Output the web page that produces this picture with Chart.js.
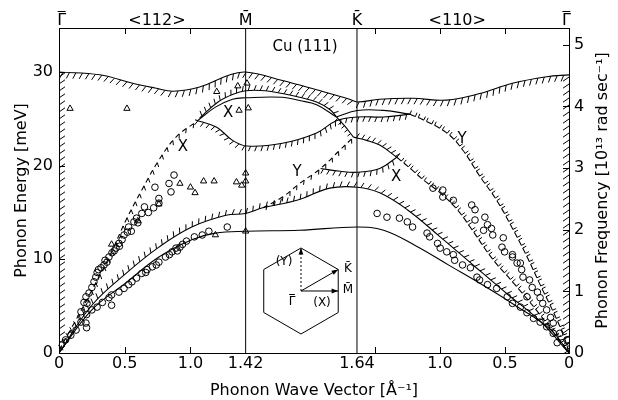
<!DOCTYPE html>
<html><head><meta charset="utf-8">
<script src="https://cdn.jsdelivr.net/npm/chart.js@4/dist/chart.umd.min.js"></script>
<style>html,body{margin:0;padding:0;background:#fff}</style>
</head><body>
<canvas id="c" width="618" height="400"></canvas>
<script>
// ---------- axis constants ----------
const E_MAX = 34.7;              // meV at top of frame
const MEV_TO_FREQ = 0.15193;     // 1 meV = 0.15193 x 10^13 rad/s
const X_MAX = 3.88;              // path length Γ-M-K-Γ
const POS_M = 1.42, POS_K = 2.267;

const bottomTickPos    = [0, 0.5, 1.0, 1.42, 2.267, 2.899, 3.393, 3.88];
const bottomTickLabels = ['0','0.5','1.0','1.42','1.64','1.0','0.5','0'];
const topLabelPos      = [0.02, 0.745, 1.42, 2.267, 3.03, 3.86];
const topLabels        = ['Γ','<112>','M\u0304','K\u0304','<110>','Γ'];
const minorTickPos     = [0.5, 1.0, 2.404, 2.899, 3.393];
const energyTicks      = [0, 10, 20, 30];
const freqTicks        = [0, 1, 2, 3, 4, 5];

// ---------- curves (path coordinate, meV) ----------
const bandTop = [[0,30.0],[0.31,29.7],[0.56,28.8],[0.73,28.3],[0.87,27.95],[1.07,28.4],[1.28,29.6],[1.42,30.0],[1.70,29.1],[1.96,28.1],[2.21,27.1],[2.27,26.8],[2.44,27.1],[2.69,27.2],[2.95,27.0],[3.20,27.7],[3.45,28.8],[3.71,29.5],[3.88,29.7]];
const bandUpperM = [[1.07,25.1],[1.21,26.8],[1.32,27.6],[1.42,28.0],[1.57,28.0],[1.70,27.7],[1.83,27.3],[1.96,26.8],[2.06,26.0],[2.11,25.25]];
const modeUpperM = [[1.05,24.76],[1.19,26.25],[1.32,27.1],[1.42,27.25],[1.70,27.3],[1.83,26.95],[1.96,26.5],[2.11,25.2]];
const bandLowerM = [[1.035,24.9],[1.20,24.1],[1.32,22.7],[1.43,22.1],[1.70,22.4],[1.96,23.5],[2.11,24.8],[2.27,25.2],[2.47,25.2],[2.67,25.5]];
const modeUpperK = [[2.11,25.2],[2.27,25.9],[2.47,25.9],[2.67,25.5]];
const edgeY = [[2.67,25.5],[2.77,24.9],[2.95,23.5],[3.07,21.7],[3.20,18.9],[3.33,16.3],[3.45,13.3],[3.56,10.3],[3.66,7.3],[3.76,4.4],[3.84,1.8],[3.88,0]];
const edgeX = [[2.57,20.9],[2.69,19.5],[2.77,18.5],[2.90,17.1],[3.03,15.3],[3.13,13.4],[3.30,10.0],[3.45,7.6],[3.63,4.6],[3.81,1.3],[3.88,0]];
const bandLow = [[0,0],[0.25,5.1],[0.51,8.5],[0.76,11.3],[1.01,13.45],[1.27,14.7],[1.42,14.9],[1.55,15.5],[1.81,16.3],[2.06,17.6],[2.27,17.7],[2.44,17.1],[2.65,15.3],[2.90,12.4],[3.15,9.4],[3.41,6.3],[3.66,3.4],[3.88,0]];
const rayleigh = [[0,0],[0.25,4.6],[0.51,7.5],[0.76,10.25],[1.01,12.1],[1.19,12.8],[1.42,13.0],[1.83,13.1],[2.27,13.45],[2.47,13.1],[2.72,11.4],[2.975,9.3],[3.23,7.2],[3.48,5.0],[3.74,2.5],[3.88,0]];
const dashX = [[0,0.3],[0.12,3.3],[0.25,6.7],[0.39,10.5],[0.51,14.2],[0.63,17.4],[0.76,20.6],[0.89,23.05],[1.05,24.76]];
const dashY = [[1.55,15.5],[1.70,16.65],[1.83,18.1],[1.99,19.7],[2.14,21.7],[2.24,23.05]];
const linkK = [[2.11,25.2],[2.17,24.3],[2.24,23.05]];
const lensKUpper = [[2.24,23.05],[2.34,22.7],[2.44,22.2],[2.57,20.9]];
const lensKLower = [[1.99,19.7],[2.14,19.4],[2.27,19.3],[2.44,19.7],[2.57,20.9]];
const edgeLeft = [[0,0],[0,30.0]];
const edgeRight = [[3.88,0],[3.88,29.7]];

// ---------- measured points ----------
const circles = [
 [0.875,19.0],[0.837,18.1],[0.852,17.2],[0.73,17.7],[0.76,16.5],[0.76,16.0],[0.72,15.5],[0.65,15.6],[0.63,14.9],[0.59,14.4],
 [0.57,14.0],[0.53,13.45],[0.52,12.9],[0.495,12.6],[0.48,12.1],[0.456,11.7],[0.434,11.2],[0.403,10.7],[0.38,10.25],[0.365,9.7],
 [0.342,9.4],[0.32,9.1],[0.29,8.6],[0.28,8.1],[0.266,7.6],[0.25,7.0],[0.228,6.4],[0.205,6.0],[0.213,5.3],[0.19,5.4],[0.167,4.4],
 [0.30,8.9],[0.35,9.9],[0.42,10.9],[0.46,11.4],[0.55,13.0],[0.60,13.9],[0.68,15.0],
 [1.28,13.45],[1.14,13.0],[1.09,12.6],[1.03,12.4],[0.97,11.95],[0.94,11.6],[0.89,11.2],[0.86,10.8],[0.84,10.5],[0.81,10.25],
 [0.76,9.7],[0.74,9.4],[0.71,9.2],[0.67,8.9],[0.63,8.5],[0.59,8.0],[0.555,7.6],[0.53,7.3],[0.495,6.9],[0.456,6.5],[0.40,6.2],
 [0.38,5.9],[0.40,5.1],[0.33,5.4],[0.29,4.9],[0.25,4.6],[0.21,4.1],[0.205,3.2],[0.21,2.7],[0.167,3.3],[0.13,2.45],[0.09,1.9],
 [0.05,1.4],[0.015,0.85],[0.90,10.9],[0.92,11.3],[0.66,8.6],
 [2.42,14.9],[2.495,14.5],[2.59,14.4],[2.65,14.0],[2.69,13.45],[2.80,12.8],[2.82,12.4],[2.88,11.7],[2.90,11.2],[2.95,10.8],
 [3.00,10.5],[3.01,9.9],[3.07,9.4],[3.13,9.1],[3.18,8.1],[3.20,7.8],[3.26,7.3],[3.33,6.9],[3.41,6.0],[3.45,5.3],[3.51,4.9],
 [3.56,4.3],[3.61,3.7],[3.66,3.3],[3.71,2.8],[3.76,2.1],[3.79,1.1],
 [2.845,17.6],[2.92,17.4],[2.92,16.65],[3.00,16.3],[3.14,15.8],[3.165,15.3],[3.165,14.2],[3.24,14.5],[3.26,13.7],[3.29,13.3],
 [3.23,13.1],[3.30,12.6],[3.38,12.3],[3.37,11.3],[3.39,10.8],[3.45,10.5],[3.45,10.25],[3.51,9.6],[3.52,8.9],[3.53,8.1],
 [3.58,7.8],[3.60,7.0],[3.64,6.5],[3.66,5.9],[3.68,5.3],[3.71,4.6],[3.74,3.8],[3.76,3.2],[3.81,2.1],[3.865,1.4],[3.56,6.0],[3.485,9.6]
];
const triangles = [
 [0.084,26.1],[0.517,26.1],[1.20,27.9],[1.36,28.5],[1.43,28.8],[1.37,25.9],[1.44,26.15],
 [0.92,18.1],[1.00,17.7],[1.035,17.1],[1.10,18.35],[1.18,18.35],[1.35,18.25],[1.39,17.9],[1.42,18.35],[1.42,19.2],
 [0.40,11.6],[0.60,14.1],[0.76,15.9],[1.19,12.6],[1.42,13.0]
];

// ---------- helpers ----------
const toXY = a => a.map(p => ({x:p[0], y:p[1]}));
const FONT = 'DejaVu Sans';
function line(data, extra){
  return Object.assign({data: toXY(data), showLine:true, pointRadius:0, pointHoverRadius:0,
    borderColor:'#000', borderWidth:1.1, tension:0.4, fill:false}, extra||{});
}

const hatchPlugin = {
  id:'hatch',
  afterDatasetsDraw(chart){
    const ctx = chart.ctx, ca = chart.chartArea;
    ctx.save();
    ctx.beginPath(); ctx.rect(ca.left-1, ca.top-1, ca.right-ca.left+2, ca.bottom-ca.top+2); ctx.clip();
    chart.data.datasets.forEach((ds, di) => {
      const h = ds.hatch; if (!h) return;
      const pts = chart.getDatasetMeta(di).data;
      const s = [];
      for (let i=0;i<pts.length-1;i++){
        const a=pts[i], b=pts[i+1];
        const c1x = a.cp2x ?? a.x, c1y = a.cp2y ?? a.y, c2x = b.cp1x ?? b.x, c2y = b.cp1y ?? b.y;
        for (let k=(i===0?0:1); k<=30; k++){
          const t=k/30, u=1-t;
          s.push({x:u*u*u*a.x+3*u*u*t*c1x+3*u*t*t*c2x+t*t*t*b.x, y:u*u*u*a.y+3*u*u*t*c1y+3*u*t*t*c2y+t*t*t*b.y});
        }
      }
      ctx.strokeStyle='#000'; ctx.lineWidth=h.width||1; ctx.beginPath();
      let dist=0, next=h.offset||0, gi=0;
      for (let i=1;i<s.length;i++){
        const dx=s[i].x-s[i-1].x, dy=s[i].y-s[i-1].y, L=Math.hypot(dx,dy);
        if (L===0) continue;
        const tx=dx/L, ty=dy/L, nx=ty, ny=-tx;
        while (next <= dist+L){
          const f=(next-dist)/L, px=s[i-1].x+dx*f, py=s[i-1].y+dy*f;
          ctx.moveTo(px,py);
          ctx.lineTo(px+h.len*(h.side*nx+h.slant*tx), py+h.len*(h.side*ny+h.slant*ty));
          next += h.gaps[gi%h.gaps.length]; gi++;
        }
        dist+=L;
      }
      ctx.stroke();
    });
    ctx.restore();
  }
};

const decorPlugin = {
  id:'decor',
  afterDraw(chart){
    const ctx=chart.ctx, xs=chart.scales.x, ys=chart.scales.y, ca=chart.chartArea;
    ctx.save();
    ctx.strokeStyle='#000'; ctx.fillStyle='#000'; ctx.lineWidth=1;
    // inward tick marks
    ctx.beginPath();
    minorTickPos.forEach(v=>{ const px=Math.round(xs.getPixelForValue(v))+0.5;
      ctx.moveTo(px,ca.top); ctx.lineTo(px,ca.top+6); ctx.moveTo(px,ca.bottom); ctx.lineTo(px,ca.bottom-6); });
    energyTicks.forEach(v=>{ const py=Math.round(ys.getPixelForValue(v))+0.5; ctx.moveTo(ca.left,py); ctx.lineTo(ca.left+6,py); });
    const y2=chart.scales.y2;
    freqTicks.forEach(v=>{ const py=Math.round(y2.getPixelForValue(v))+0.5; ctx.moveTo(ca.right,py); ctx.lineTo(ca.right-6,py); });
    // bars over the Γ labels of the top axis
    ctx.font='16px "'+FONT+'"';
    const gw=ctx.measureText('Γ').width;
    topLabels.forEach((t,i)=>{ if(t==='Γ'){ const px=xs.getPixelForValue(topLabelPos[i]);
      ctx.moveTo(px-gw/2+0.5,11.5); ctx.lineTo(px+gw/2-0.5,11.5); } });
    ctx.stroke();
    // right title (reads bottom to top)
    ctx.font='16px "'+FONT+'"'; ctx.textAlign='center'; ctx.textBaseline='middle';
    ctx.save(); ctx.translate(603,(ca.top+ca.bottom)/2); ctx.rotate(-Math.PI/2);
    ctx.fillText('Phonon Frequency [10¹³ rad sec⁻¹]',0,0); ctx.restore();
    // labels in the plot
    const lab=(t,x,e,size)=>{ ctx.font=size+'px "'+FONT+'"'; ctx.fillText(t, xs.getPixelForValue(x), ys.getPixelForValue(e)); };
    lab('Cu (111)',1.872,32.66,15);
    lab('X',0.943,21.98,15); lab('X',1.286,25.6,15); lab('Y',1.811,19.3,15);
    lab('Y',3.066,22.8,15); lab('X',2.564,18.8,15);
    // Brillouin zone inset
    const cx=xs.getPixelForValue(1.841), cy=ys.getPixelForValue(6.62), R=43, c30=R*Math.cos(Math.PI/6);
    ctx.beginPath();
    for(let k=0;k<6;k++){ const a=-Math.PI/2+k*Math.PI/3; const px=cx+R*Math.cos(a), py=cy+R*Math.sin(a); k?ctx.lineTo(px,py):ctx.moveTo(px,py); }
    ctx.closePath(); ctx.stroke();
    const arrow=(x1,y1,x2,y2,dash)=>{ ctx.save(); ctx.setLineDash(dash||[]); ctx.beginPath(); ctx.moveTo(x1,y1); ctx.lineTo(x2,y2); ctx.stroke(); ctx.restore();
      const a=Math.atan2(y2-y1,x2-x1); ctx.beginPath(); ctx.moveTo(x2,y2);
      ctx.lineTo(x2-7*Math.cos(a-0.35),y2-7*Math.sin(a-0.35)); ctx.lineTo(x2-7*Math.cos(a+0.35),y2-7*Math.sin(a+0.35)); ctx.closePath(); ctx.fill(); };
    arrow(cx,cy,cx+c30,cy-R/2); arrow(cx,cy,cx+c30,cy); arrow(cx,cy,cx,cy-R,[2,2]);
    ctx.font='12px "'+FONT+'"';
    ctx.fillText('(Y)',cx-17,cy-29); ctx.fillText('Γ',cx-9,cy+11);
    const gw2=ctx.measureText('Γ').width;
    ctx.beginPath(); ctx.moveTo(cx-9-gw2/2+0.5,cy+3.5); ctx.lineTo(cx-9+gw2/2-0.5,cy+3.5); ctx.stroke();
    ctx.fillText('K\u0304',cx+47,cy-22); ctx.fillText('M\u0304',cx+47,cy-1); ctx.fillText('(X)',cx+21,cy+12);
    ctx.restore();
  }
};

const dashedBarbs = {side:-1, slant:-0.9, len:3.5, gaps:[9], offset:5};
const uRow = {side:1, slant:0, len:4, gaps:[6,3]};

const datasets = [
  line(edgeLeft,  {borderColor:'rgba(0,0,0,0)', tension:0, hatch:{side:-1, slant:0.7, len:6, gaps:[7], offset:3}}),
  line(edgeRight, {borderColor:'rgba(0,0,0,0)', tension:0, hatch:{side:1, slant:-0.7, len:6, gaps:[7], offset:3}}),
  line([[POS_M,0],[POS_M,E_MAX]], {tension:0, borderWidth:1}),
  line([[POS_K,0],[POS_K,E_MAX]], {tension:0, borderWidth:1}),
  line(bandTop,    {hatch:{side:-1, slant:-0.5, len:6, gaps:[6.5], offset:4}}),
  line(bandUpperM, {hatch:{side:1, slant:0.4, len:5, gaps:[6], offset:3}}),
  line(modeUpperM),
  line(bandLowerM, {hatch:{side:-1, slant:-0.4, len:5, gaps:[6], offset:3}}),
  line(modeUpperK),
  line(edgeY, {borderDash:[6,3], hatch:uRow}),
  line(edgeX, {borderDash:[6,3], hatch:uRow}),
  line(bandLow, {hatch:{side:1, slant:0.5, len:5, gaps:[7], offset:4}}),
  line(rayleigh),
  line(dashX, {borderDash:[5,4], hatch:dashedBarbs}),
  line(dashY, {borderDash:[5,4], hatch:dashedBarbs}),
  line(linkK, {hatch:{side:-1, slant:0, len:4, gaps:[5], offset:2}}),
  line(lensKUpper, {hatch:{side:1, slant:0.4, len:5, gaps:[5.5], offset:3}}),
  line(lensKLower, {hatch:{side:-1, slant:-0.4, len:5, gaps:[6], offset:3}}),
  {data: toXY(circles), pointStyle:'circle', pointRadius:3.3, borderWidth:1, borderColor:'#000', backgroundColor:'rgba(255,255,255,0)'},
  {data: toXY(triangles), pointStyle:'triangle', pointRadius:3.6, borderWidth:1, borderColor:'#000', backgroundColor:'rgba(255,255,255,0)'}
];

const tickFont = {family:FONT, size:16};
new Chart(document.getElementById('c'), {
  type:'scatter',
  data:{datasets},
  options:{
    responsive:false, animation:false, events:[],
    layout:{padding:0},
    plugins:{legend:{display:false}, tooltip:{enabled:false}},
    scales:{
      x:{type:'linear', position:'bottom', min:0, max:X_MAX,
         grid:{display:false, drawTicks:false}, border:{display:true, color:'#000', width:1},
         afterBuildTicks:s=>{ s.ticks = bottomTickPos.map(v=>({value:v})); },
         ticks:{autoSkip:false, maxRotation:0, padding:1, color:'#000', font:tickFont, callback:(v,i)=>bottomTickLabels[i]},
         title:{display:true, text:'Phonon Wave Vector [Å⁻¹]', color:'#000', font:{family:FONT, size:16}, padding:{top:0,bottom:0}},
         afterFit:s=>{ s.height=47; }},
      x2:{type:'linear', position:'top', min:0, max:X_MAX,
         grid:{display:false, drawTicks:false}, border:{display:true, color:'#000', width:1},
         afterBuildTicks:s=>{ s.ticks = topLabelPos.map(v=>({value:v})); },
         ticks:{autoSkip:false, maxRotation:0, padding:-2, color:'#000', font:tickFont, callback:(v,i)=>topLabels[i]},
         afterFit:s=>{ s.height=28; }},
      y:{type:'linear', position:'left', min:0, max:E_MAX,
         grid:{display:false, drawTicks:false}, border:{display:true, color:'#000', width:1},
         afterBuildTicks:s=>{ s.ticks = energyTicks.map(v=>({value:v})); },
         ticks:{padding:6, color:'#000', font:tickFont},
         title:{display:true, text:'Phonon Energy [meV]', color:'#000', font:{family:FONT, size:16}, padding:{top:12,bottom:0}},
         afterFit:s=>{ s.width=59; }},
      y2:{type:'linear', position:'right', min:0, max:E_MAX*MEV_TO_FREQ,
         grid:{display:false, drawTicks:false}, border:{display:true, color:'#000', width:1},
         afterBuildTicks:s=>{ s.ticks = freqTicks.map(v=>({value:v})); },
         ticks:{padding:5, color:'#000', font:tickFont},
         afterFit:s=>{ s.width=49; }}
    }
  },
  plugins:[hatchPlugin, decorPlugin]
});
</script>
</body></html>
